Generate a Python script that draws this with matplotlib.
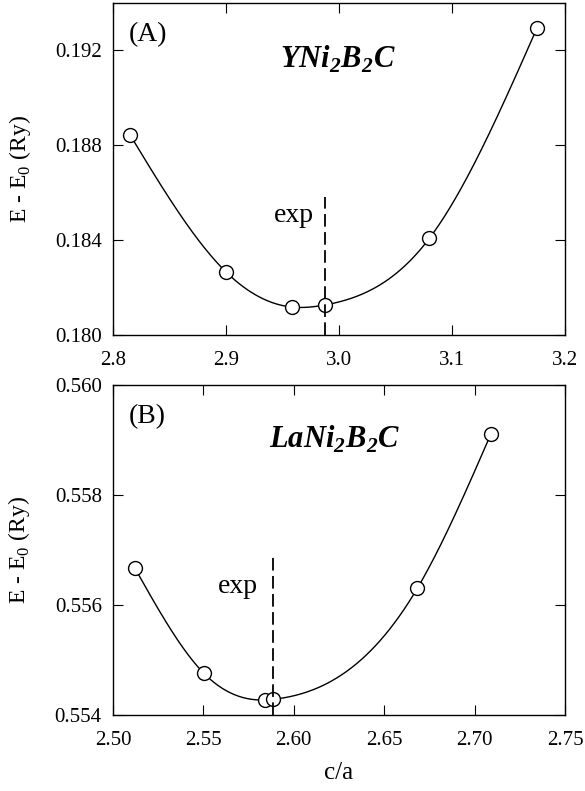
import numpy as np
import matplotlib
matplotlib.use("Agg")
import matplotlib.pyplot as plt

plt.rcParams.update({'font.family': 'Liberation Serif', 'font.size': 11,
                     'xtick.direction': 'in', 'ytick.direction': 'in',
                     'xtick.top': True, 'ytick.right': True,
                     'xtick.major.size': 7, 'ytick.major.size': 7,
                     'axes.linewidth': 1.0})

# panel A: YNi2B2C
ca_y = [2.815, 2.900, 2.958, 2.988, 3.080, 3.175]
e_y = [0.18845, 0.18266, 0.18118, 0.18127, 0.18408, 0.19293]
exp_y = 2.988
# panel B: LaNi2B2C
ca_la = [2.5122, 2.5503, 2.5841, 2.5887, 2.6683, 2.7089]
e_la = [0.556667, 0.554758, 0.554273, 0.554285, 0.556303, 0.559103]
exp_la = 2.5887


def spline(x, y, n=300):
    # natural cubic spline through the points
    x = np.asarray(x); y = np.asarray(y)
    h = np.diff(x)
    m = len(x)
    A = np.zeros((m, m)); b = np.zeros(m)
    A[0, 0] = A[-1, -1] = 1
    for i in range(1, m - 1):
        A[i, i - 1] = h[i - 1]
        A[i, i] = 2 * (h[i - 1] + h[i])
        A[i, i + 1] = h[i]
        b[i] = 6 * ((y[i + 1] - y[i]) / h[i] - (y[i] - y[i - 1]) / h[i - 1])
    M = np.linalg.solve(A, b)
    xs = np.linspace(x[0], x[-1], n)
    k = np.clip(np.searchsorted(x, xs) - 1, 0, m - 2)
    t0 = x[k + 1] - xs; t1 = xs - x[k]
    ys = (M[k] * t0**3 + M[k + 1] * t1**3) / (6 * h[k]) \
        + (y[k] / h[k] - M[k] * h[k] / 6) * t0 \
        + (y[k + 1] / h[k] - M[k + 1] * h[k] / 6) * t1
    return xs, ys


fig = plt.figure(figsize=(5.85, 7.91), dpi=100)
ax1 = fig.add_axes([0.193, 0.5765, 0.773, 0.4197])
ax2 = fig.add_axes([0.193, 0.0961, 0.773, 0.4172])

panels = [(ax1, ca_y, e_y, exp_y, 0.1858, '(A)',
           (2.8, 3.2), (0.180, 0.194), [2.8, 2.9, 3.0, 3.1, 3.2], [0.180, 0.184, 0.188, 0.192], '%.1f'),
          (ax2, ca_la, e_la, exp_la, 0.55688, '(B)',
           (2.5, 2.75), (0.554, 0.560), [2.50, 2.55, 2.60, 2.65, 2.70, 2.75],
           [0.554, 0.556, 0.558, 0.560], '%.2f')]

for ax, x, y, xe, ytop, lab, xl, yl, xt, yt, fmt in panels:
    xs, ys = spline(x, y)
    ax.plot(xs, ys, color='black', lw=1.0)
    ax.plot(x, y, 'o', ms=10, mfc='white', mec='black', mew=1.0)
    ax.plot([xe, xe], [yl[0], ytop], color='black', lw=1.3, dashes=(7, 3))
    ax.set_xlim(*xl)
    ax.set_ylim(*yl)
    ax.set_xticks(xt)
    ax.set_yticks(yt)
    ax.set_xticklabels([fmt % v for v in xt])
    ax.set_yticklabels(['%.3f' % v for v in yt])
    ax.tick_params(axis='x', labelsize=15, pad=11.5)
    ax.tick_params(axis='y', labelsize=15, pad=8)
    ax.set_ylabel(r'E - E$_\mathregular{0}$ (Ry)', fontsize=17, labelpad=16)
    ax.text(0.034, 0.905, lab, transform=ax.transAxes, fontsize=20, va='center')

ax1.text(0.37, 0.83, r'YNi$_\mathregular{2}$B$_\mathregular{2}$C', transform=ax1.transAxes,
         fontsize=22, fontweight='bold', fontstyle='italic', va='center')
ax1.text(0.355, 0.36, 'exp', transform=ax1.transAxes, fontsize=20, va='center')
ax2.text(0.345, 0.835, r'LaNi$_\mathregular{2}$B$_\mathregular{2}$C', transform=ax2.transAxes,
         fontsize=22, fontweight='bold', fontstyle='italic', va='center')
ax2.text(0.232, 0.39, 'exp', transform=ax2.transAxes, fontsize=20, va='center')
ax2.set_xlabel('c/a', fontsize=18, labelpad=9)

fig.savefig('out.png', dpi=100)
